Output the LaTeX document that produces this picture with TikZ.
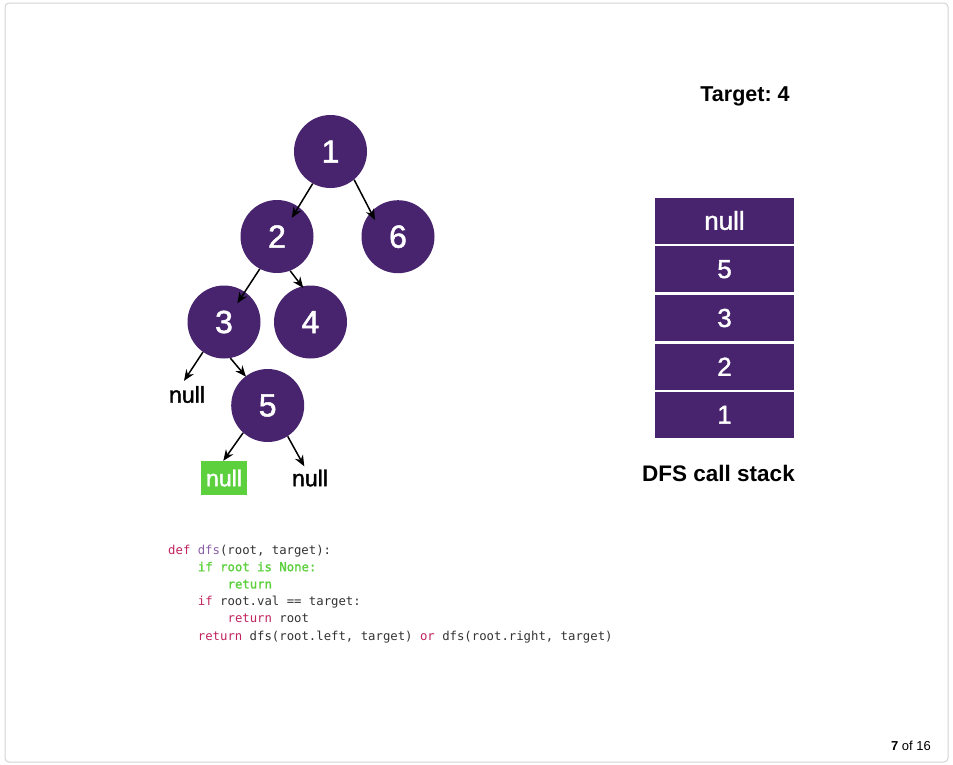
\documentclass[tikz,border=0pt]{standalone}
\usepackage{fontspec}
\setmainfont{Liberation Sans}
\setmonofont{DejaVu Sans Mono}
\newfontfamily\medsans[FakeBold=1.5]{Liberation Sans}
\newfontfamily\monobold[FakeBold=1.5]{DejaVu Sans Mono}
\usetikzlibrary{arrows.meta,calc}
\definecolor{treepurple}{HTML}{48246F}
\definecolor{nullgreen}{HTML}{5CD13D}
\definecolor{kwred}{HTML}{C0245E}
\definecolor{fnpurple}{HTML}{8B5FA8}
\definecolor{codegray}{HTML}{333333}
\definecolor{framegray}{HTML}{D4D4D4}
\frenchspacing
\tikzset{
  treenode/.style={circle, fill=treepurple, draw=none, minimum size=73pt, inner sep=0pt,
    text=white, font=\medsans\fontsize{32}{36}\selectfont},
  stackbox/.style={rectangle, fill=treepurple, draw=none, minimum width=139pt, minimum height=46pt,
    inner sep=0pt, text=white, font=\medsans\fontsize{26}{30}\selectfont},
  nulltext/.style={inner sep=0pt, text=black, font=\medsans\fontsize{23}{27}\selectfont},
  greennull/.style={rectangle, fill=nullgreen, minimum width=46pt, minimum height=34pt, inner sep=0pt,
    text=white, font=\medsans\fontsize{23}{27}\selectfont},
  edge/.style={line width=1.5pt, -{Stealth[length=11pt,width=9pt]}},
  codeline/.style={anchor=base west, inner sep=0pt, text=codegray, font=\ttfamily\fontsize{12.3}{15}\selectfont},
  title/.style={inner sep=0pt, font=\bfseries\fontsize{21.5}{25}\selectfont}
}
\begin{document}
\begin{tikzpicture}[x=1pt,y=-1pt]
\useasboundingbox (0,0) rectangle (953,764);
\fill[white] (0,0) rectangle (953,764);
\draw[framegray, line width=1pt, rounded corners=4pt] (5,3) rectangle (948,762);

% tree
\node[treenode] (n1) at (330.5,151.5) {1};
\node[treenode] (n2) at (277,236.5) {2};
\node[treenode] (n6) at (398,236.7) {6};
\node[treenode] (n3) at (224,322) {3};
\node[treenode] (n4) at (310.5,322) {4};
\node[treenode] (n5) at (267.7,405.5) {5};
\node[nulltext] (null3) at (187,394.5) {null};
\node[greennull] (nullg) at (224,478) {null};
\node[nulltext] (null5) at (310,478) {null};

\draw[edge] (n1.-119) -- ($(n2.center)+(14.7,-18.5)$);
\draw[edge] (n1.-50) -- ($(n6.center)+(-23,-16.7)$);
\draw[edge] (n2.-118) -- ($(n3.center)+(13.3,-18.7)$);
\draw[edge] (n2.-69) -- ($(n4.center)+(-7.2,-34)$);
\draw[edge] (n3.-125) -- ($(null3.north)+(-3,-5)$);
\draw[edge] (n3.-80) -- ($(n5.center)+(-21.7,-28.8)$);
\draw[edge] (n5.-132) -- ($(nullg.north)+(-0.7,0)$);
\draw[edge] (n5.-57) -- ($(null5.north)+(-5.7,-3)$);

% stack
\node[stackbox] (s1) at (724.5,220.5) {null};
\node[stackbox] (s2) at (724.5,269.2) {5};
\node[stackbox] (s3) at (724.5,318) {3};
\node[stackbox] (s4) at (724.5,366.7) {2};
\node[stackbox] (s5) at (724.5,414.7) {1};
\node[title, font=\bfseries\fontsize{22.5}{26}\selectfont] (stacklabel) at (718.5,473.5) {DFS call stack};
\node[title] (target) at (745,96) {Target: 4};

% code
\node[codeline] (c1) at (168,554) {\textcolor{kwred}{def} \textcolor{fnpurple}{dfs}(root, target):};
\node[codeline] (c2) at (197.7,571.2) {\monobold\textcolor{nullgreen}{if root is None:}};
\node[codeline] (c3) at (227.4,588.4) {\monobold\textcolor{nullgreen}{return}};
\node[codeline] (c4) at (197.7,605.6) {\textcolor{kwred}{if} root.val == target:};
\node[codeline] (c5) at (227.4,622.8) {\textcolor{kwred}{return} root};
\node[codeline] (c6) at (197.7,640) {\textcolor{kwred}{return} dfs(root.left, target) \textcolor{kwred}{or} dfs(root.right, target)};

% page counter
\node[anchor=base east, inner sep=0pt, font=\fontsize{13}{16}\selectfont] (page) at (931,750) {\textbf{7} of 16};
\end{tikzpicture}
\end{document}
